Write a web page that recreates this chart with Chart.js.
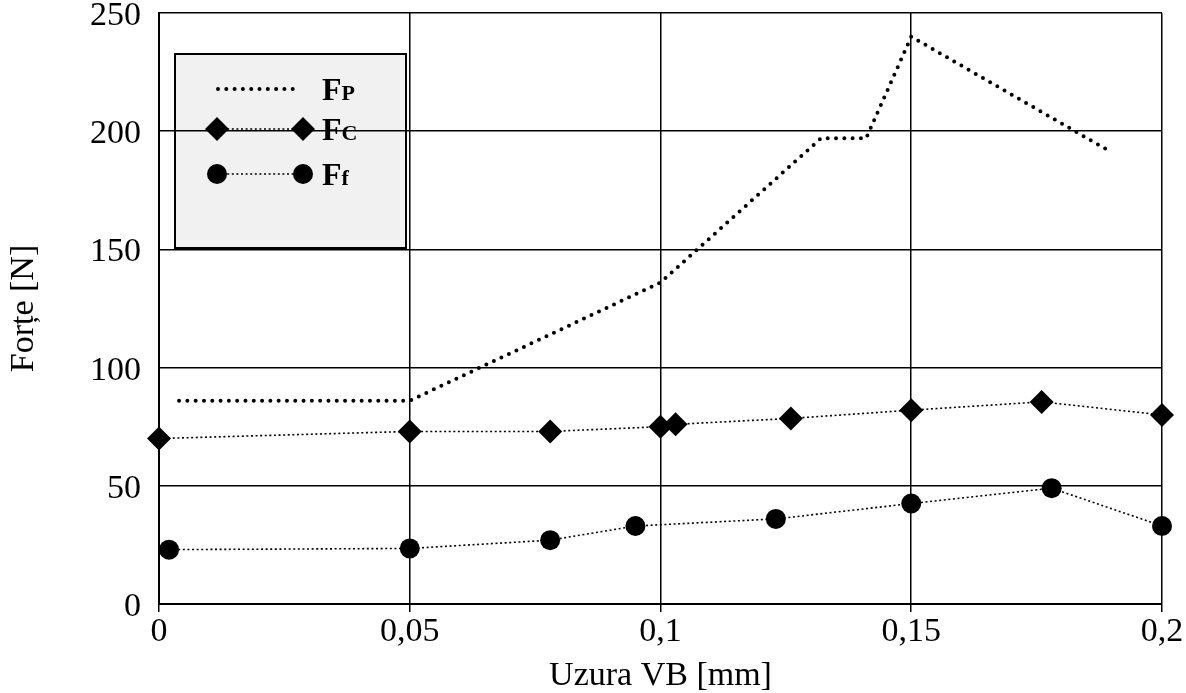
<!DOCTYPE html>
<html>
<head>
<meta charset="utf-8">
<script src="https://cdn.jsdelivr.net/npm/chart.js@4.4.1/dist/chart.umd.min.js"></script>
<style>
  html, body { margin: 0; padding: 0; background: #fff; }
</style>
</head>
<body>
<canvas id="chart" width="1186" height="693"></canvas>
<script>
"use strict";

// cutting forces vs. flank wear VB
var fpX = [0.004, 0.05, 0.1, 0.132, 0.141, 0.15, 0.19];
var fpY = [86, 86, 136, 197, 197, 240, 191];
var fcX = [0, 0.05, 0.078, 0.1, 0.103, 0.126, 0.15, 0.176, 0.2];
var fcY = [70, 73, 73, 75, 76, 78.5, 82, 85.5, 80];
var ffX = [0.002, 0.05, 0.078, 0.095, 0.123, 0.15, 0.178, 0.2];
var ffY = [23, 23.5, 27, 33, 36, 42.5, 49, 33];

var xTicks = [0, 0.05, 0.1, 0.15, 0.2];
var yTicks = [0, 50, 100, 150, 200, 250];
var seriesNames = ["FP", "FC", "Ff"];

var SERIF = "'Liberation Serif', 'Times New Roman', serif";

function pts(xs, ys) {
  return xs.map(function (x, i) { return { x: x, y: ys[i] }; });
}

// boxed legend in the upper left corner, drawn under the grid
var legendBox = {
  id: "legendBox",
  beforeDraw: function (chart) {
    var ctx = chart.ctx;
    var bx = 175, by = 54, bw = 231, bh = 194;
    var rows = [89, 129, 174];
    ctx.save();
    ctx.fillStyle = "#f1f1f1";
    ctx.fillRect(bx, by, bw, bh);
    ctx.lineWidth = 2;
    ctx.strokeStyle = "#000";
    ctx.strokeRect(bx, by, bw, bh);

    chart.data.datasets.forEach(function (ds, i) {
      var y = rows[i];
      ctx.strokeStyle = "#000";
      ctx.fillStyle = "#000";
      ctx.lineWidth = ds.borderWidth;
      ctx.lineCap = ds.borderCapStyle || "butt";
      ctx.setLineDash(ds.borderDash || []);
      ctx.beginPath();
      ctx.moveTo(218, y);
      ctx.lineTo(300, y);
      ctx.stroke();
      ctx.setLineDash([]);

      [217, 303].forEach(function (px) {
        var r = ds.pointRadius;
        if (!r) return;
        ctx.beginPath();
        if (ds.pointStyle === "rectRot") {
          ctx.moveTo(px - r, y);
          ctx.lineTo(px, y - r);
          ctx.lineTo(px + r, y);
          ctx.lineTo(px, y + r);
          ctx.closePath();
        } else {
          ctx.arc(px, y, r, 0, Math.PI * 2);
        }
        ctx.fill();
      });

      var name = seriesNames[i];
      ctx.textBaseline = "alphabetic";
      ctx.textAlign = "left";
      ctx.font = "bold 32px " + SERIF;
      ctx.fillText(name.charAt(0), 322, y + 11);
      var w = ctx.measureText(name.charAt(0)).width;
      ctx.font = "bold 22px " + SERIF;
      ctx.fillText(name.slice(1), 322 + w, y + 11);
    });
    ctx.restore();
  }
};

var lineBase = {
  borderColor: "#000",
  backgroundColor: "#000",
  pointBackgroundColor: "#000",
  pointBorderWidth: 0,
  fill: false,
  tension: 0,
  clip: false
};

new Chart(document.getElementById("chart"), {
  type: "line",
  data: {
    datasets: [
      Object.assign({}, lineBase, {
        label: seriesNames[0],
        data: pts(fpX, fpY),
        borderWidth: 4,
        borderDash: [0, 8.3],
        borderCapStyle: "round",
        pointRadius: 0
      }),
      Object.assign({}, lineBase, {
        label: seriesNames[1],
        data: pts(fcX, fcY),
        borderWidth: 1.6,
        borderDash: [2, 2.6],
        pointStyle: "rectRot",
        pointRadius: 12
      }),
      Object.assign({}, lineBase, {
        label: seriesNames[2],
        data: pts(ffX, ffY),
        borderWidth: 1.6,
        borderDash: [2, 2.6],
        pointStyle: "circle",
        pointRadius: 10
      })
    ]
  },
  options: {
    responsive: false,
    animation: false,
    devicePixelRatio: 1,
    layout: { padding: { top: 13, right: 24, bottom: 0, left: 0 } },
    plugins: {
      legend: { display: false },
      tooltip: { enabled: false }
    },
    scales: {
      x: {
        type: "linear",
        min: 0,
        max: 0.2,
        afterBuildTicks: function (s) {
          s.ticks = xTicks.map(function (v) { return { value: v }; });
        },
        afterFit: function (s) {
          s.height = 89;
          s.paddingLeft = 0;
          s.paddingRight = 0;
        },
        grid: { color: "#000", lineWidth: 1.5, tickLength: 8, drawTicks: true },
        border: { display: true, color: "#000", width: 2 },
        ticks: {
          color: "#000",
          font: { family: SERIF, size: 34 },
          padding: 0,
          maxRotation: 0,
          autoSkip: false,
          callback: function (v) { return String(v).replace(".", ","); }
        },
        title: {
          display: true,
          text: "Uzura VB [mm]",
          color: "#000",
          font: { family: SERIF, size: 34, lineHeight: 1 },
          padding: { top: 0, bottom: 0 }
        }
      },
      y: {
        min: 0,
        max: 250,
        afterBuildTicks: function (s) {
          s.ticks = yTicks.map(function (v) { return { value: v }; });
        },
        afterFit: function (s) {
          s.width = 159;
          s.paddingTop = 0;
          s.paddingBottom = 0;
        },
        grid: { color: "#000", lineWidth: 1.5, drawTicks: false },
        border: { display: true, color: "#000", width: 2 },
        ticks: {
          color: "#000",
          font: { family: SERIF, size: 34 },
          padding: 18,
          labelOffset: 3
        },
        title: {
          display: true,
          text: "Forțe [N]",
          color: "#000",
          font: { family: SERIF, size: 34 },
          padding: { top: 4, bottom: 0 }
        }
      }
    }
  },
  plugins: [legendBox]
});
</script>
</body>
</html>
